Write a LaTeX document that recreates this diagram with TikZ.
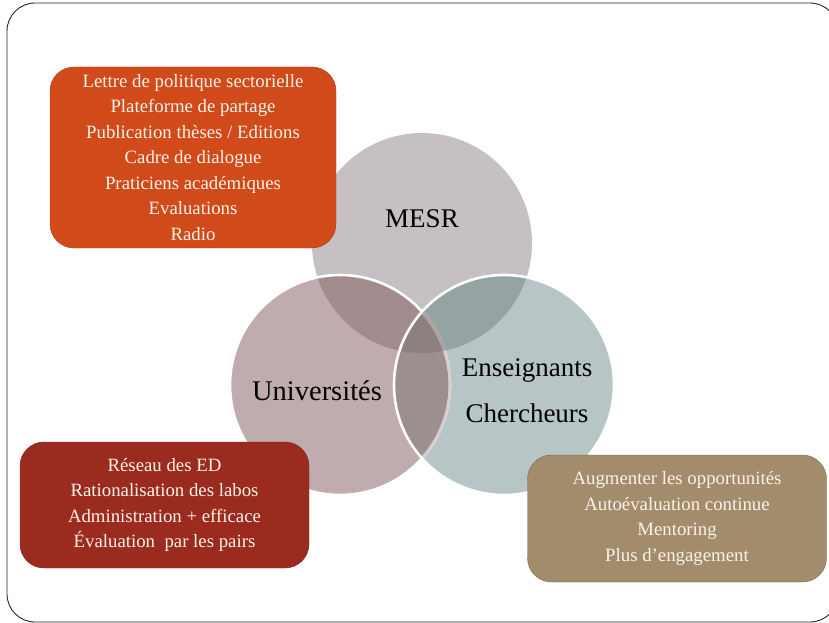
\documentclass[tikz,border=0pt]{standalone}
\usepackage{fontspec}
\setmainfont{Liberation Serif}
\usepackage{tikz}

% circle and box colours
\definecolor{mesrgray}{RGB}{198,192,194}
\definecolor{univrose}{RGB}{192,172,174}
\definecolor{ensblue}{RGB}{183,197,198}
\definecolor{mesruniv}{RGB}{162,140,141}
\definecolor{mesrens}{RGB}{150,163,163}
\definecolor{univens}{RGB}{155,143,144}
\definecolor{allthree}{RGB}{140,128,128}
\definecolor{boxorange}{RGB}{209,74,25}
\definecolor{boxred}{RGB}{155,43,31}
\definecolor{boxtan}{RGB}{163,140,107}
\definecolor{boxtext}{RGB}{250,243,235}

\tikzset{
  actionbox/.style={rounded corners=24pt, align=center, text=boxtext,
    font=\fontsize{18.8}{25.5}\selectfont, inner sep=0pt},
  circlelabel/.style={font=\fontsize{27}{46}\selectfont, align=center}
}

\begin{document}
\begin{tikzpicture}[x=1pt,y=-1pt]
  \useasboundingbox (0,0) rectangle (829,623);
  \draw[rounded corners=28pt,line width=0.9pt,black!85] (7,3) rectangle (838,622);

  \def\r{110}
  \coordinate (M) at (422,243);
  \coordinate (U) at (340,385);
  \coordinate (E) at (504,385);

  % the three sets
  \fill[mesrgray] (M) circle (\r);
  \fill[univrose] (U) circle (\r);
  \fill[ensblue] (E) circle (\r);
  % overlaps
  \begin{scope}
    \clip (M) circle (\r);
    \fill[mesruniv] (U) circle (\r);
    \fill[mesrens] (E) circle (\r);
  \end{scope}
  \begin{scope}
    \clip (U) circle (\r);
    \fill[univens] (E) circle (\r);
    \clip (M) circle (\r);
    \fill[allthree] (E) circle (\r);
  \end{scope}
  % white rims
  \draw[white,line width=2.6pt] (U) circle (\r);
  \begin{scope}
    \clip (E) circle (\r);
    \draw[univrose!60!white,line width=2.6pt] (U) circle (\r);
    \clip (M) circle (\r);
    \draw[mesruniv!85!white,line width=2.6pt] (U) circle (\r);
  \end{scope}
  \draw[white,line width=2.6pt] (E) circle (\r);

  \node[circlelabel] (mesr) at (422,219) {MESR};
  \node[circlelabel,font=\fontsize{28.5}{46}\selectfont] (univ) at (317,391) {Universités};
  \node[circlelabel] (ens) at (527,391) {Enseignants\\Chercheurs};

  % action boxes
  \node[actionbox,fill=boxorange,draw=boxorange!80!black,
    minimum width=286pt,minimum height=181pt] (politique) at (193,157.5)
    {Lettre de politique sectorielle\\Plateforme de partage\\Publication thèses / Editions\\Cadre de dialogue\\Praticiens académiques\\Evaluations\\Radio};
  \node[actionbox,fill=boxred,draw=boxred!80!black,
    minimum width=289pt,minimum height=126pt] (reseau) at (164.5,505)
    {Réseau des ED\\Rationalisation des labos\\Administration + efficace\\Évaluation~ par les pairs};
  \node[actionbox,fill=boxtan,draw=boxtan!75!black,
    minimum width=299pt,minimum height=127pt] (mentoring) at (677,518.5)
    {Augmenter les opportunités\\Autoévaluation continue\\Mentoring\\Plus d’engagement};
\end{tikzpicture}
\end{document}
